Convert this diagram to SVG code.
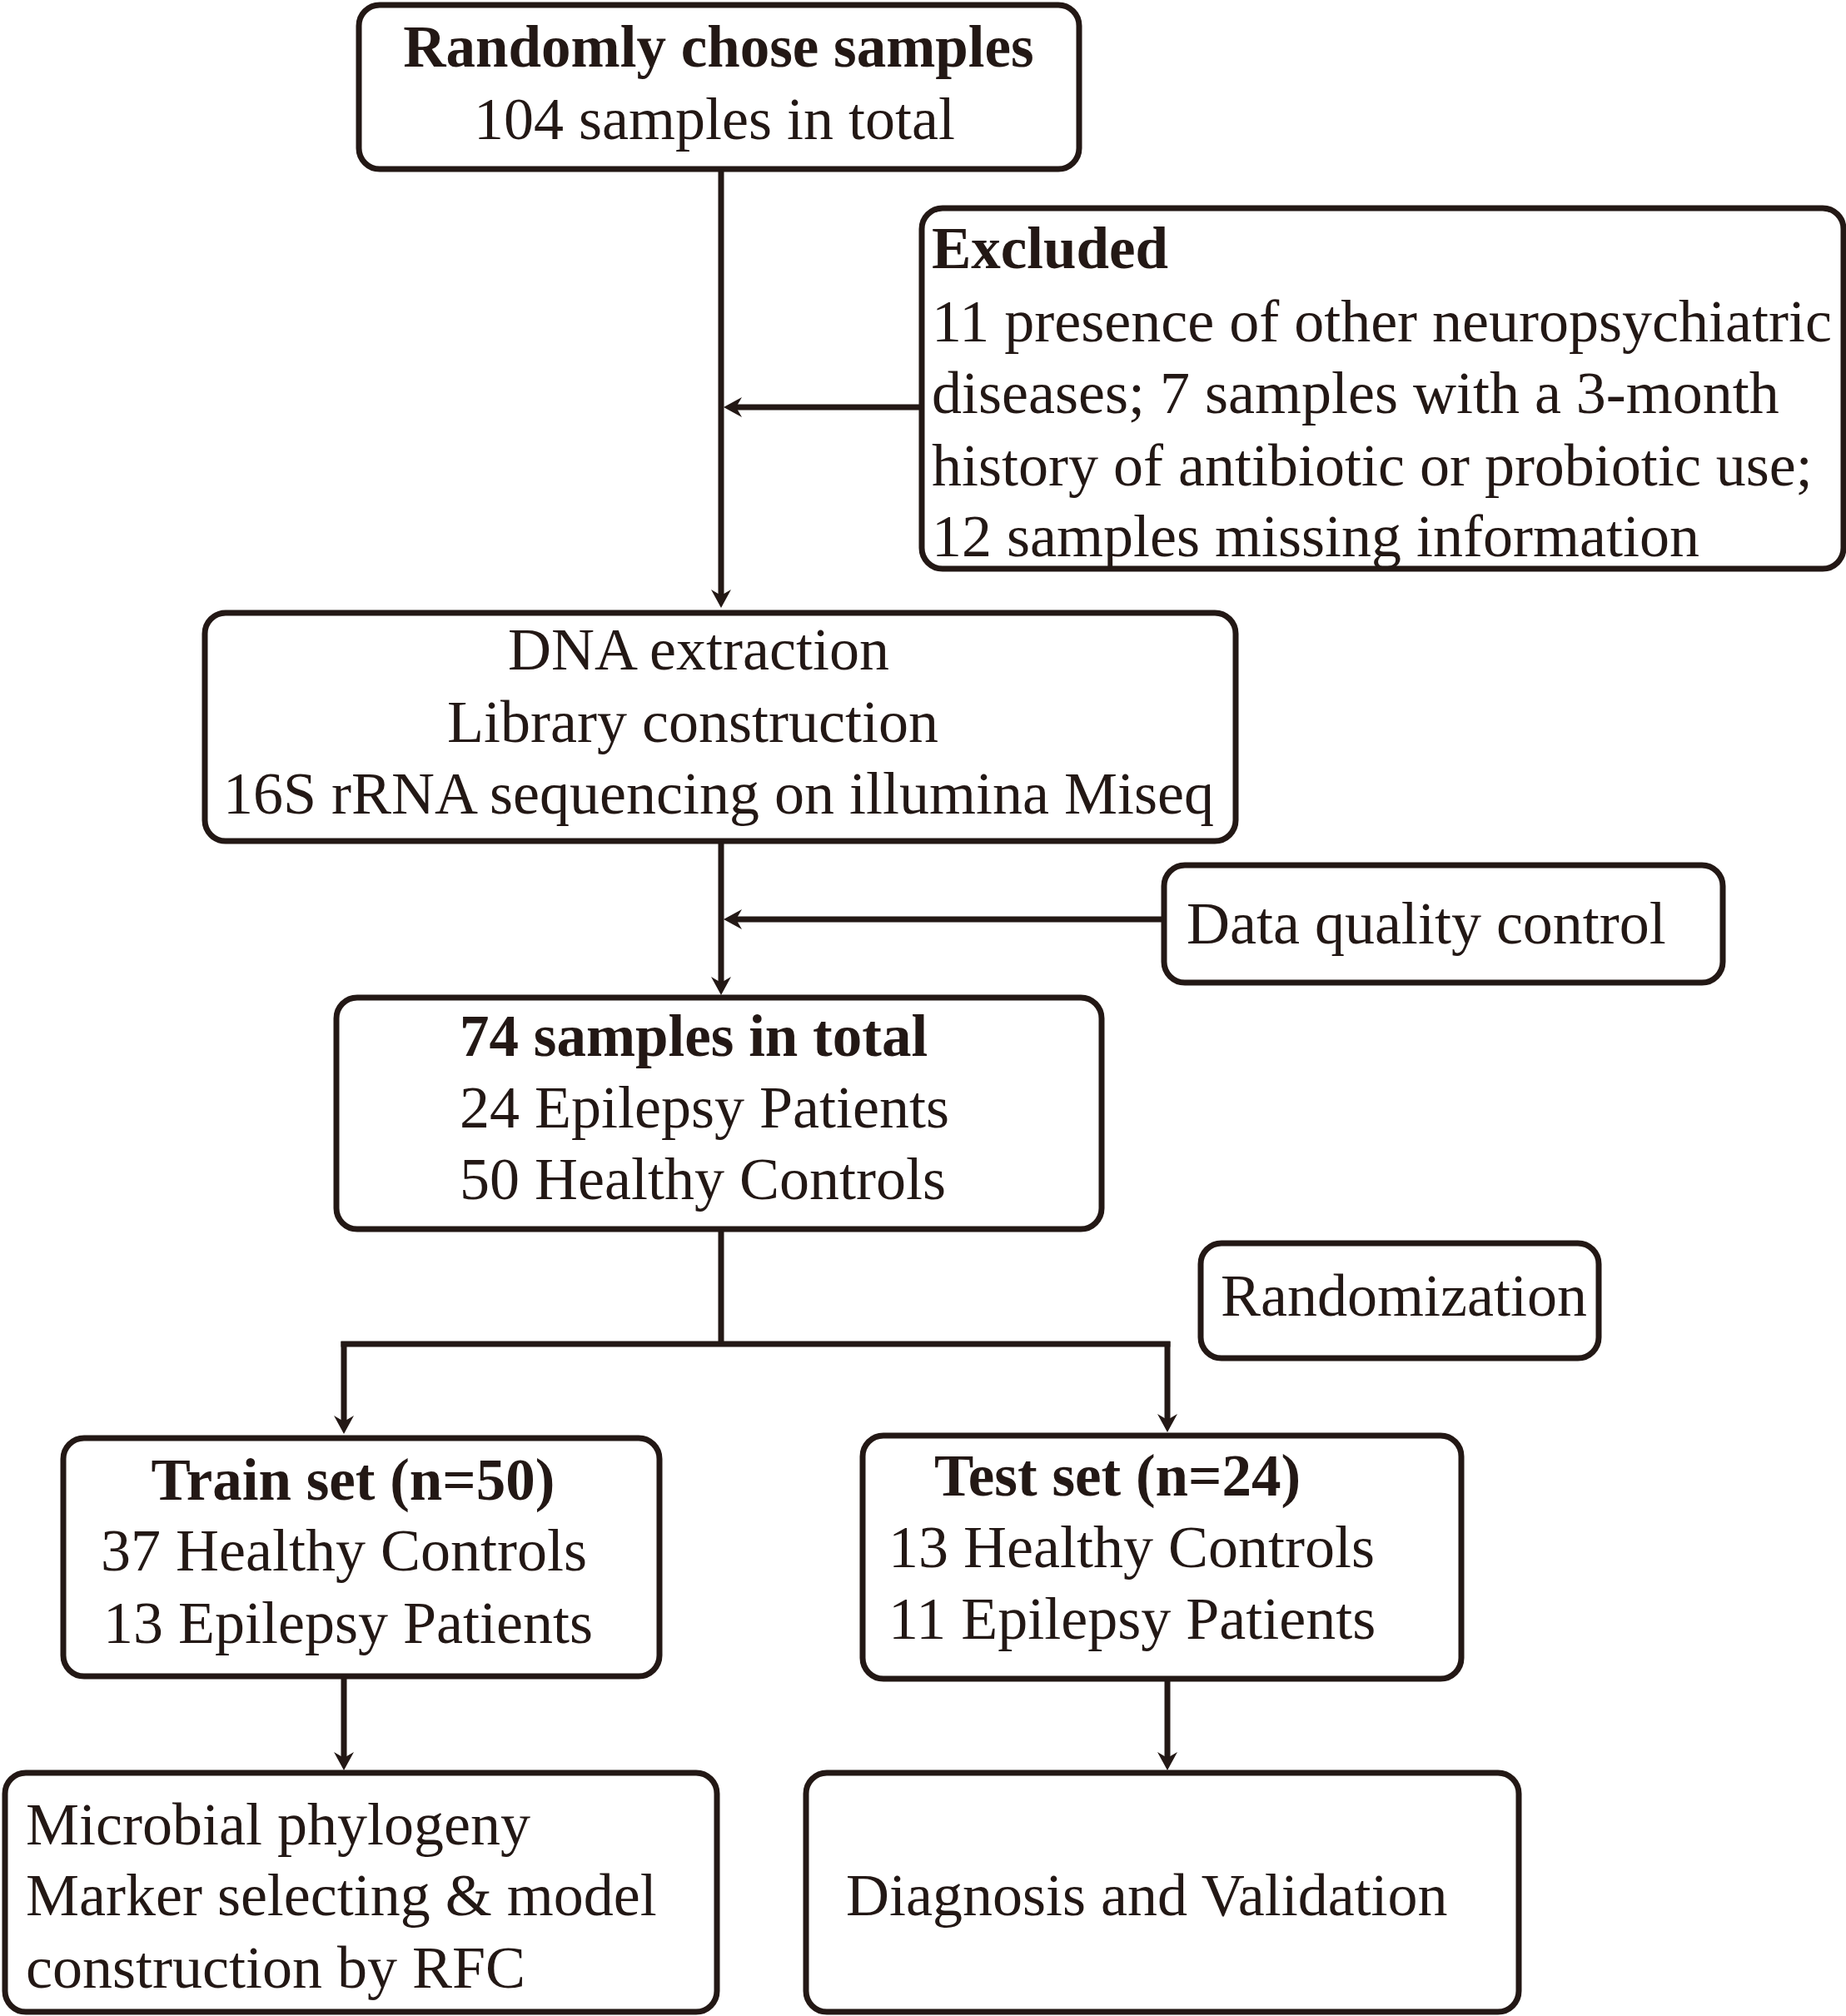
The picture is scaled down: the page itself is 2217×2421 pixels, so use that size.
<svg xmlns="http://www.w3.org/2000/svg" width="2217" height="2421" viewBox="0 0 2217 2421">
<style>
.box{fill:#fff;stroke:#231815;stroke-width:7}
.ln{fill:none;stroke:#231815;stroke-width:7}
text{font-family:"Liberation Serif","Times New Roman",serif;font-size:72px;fill:#231815}
.b{font-weight:bold;font-size:71px}
.c{text-anchor:middle}
</style>
<defs>
<marker id="ah" markerUnits="userSpaceOnUse" markerWidth="24" markerHeight="26" refX="12" refY="13" orient="auto">
<path d="M0,1 L22,13 L0,25 L7,13 Z" fill="#231815"/>
</marker>
</defs>
<rect width="2217" height="2421" fill="#fff"/>
<g id="connectors">
<path class="ln" d="M866,203 V720" marker-end="url(#ah)"/>
<path class="ln" d="M1107,489 H879" marker-end="url(#ah)"/>
<path class="ln" d="M866,1010 V1185" marker-end="url(#ah)"/>
<path class="ln" d="M1398,1104 H879" marker-end="url(#ah)"/>
<path class="ln" d="M866,1476 V1614"/>
<path class="ln" d="M409.5,1614 H1405.5"/>
<path class="ln" d="M413,1611 V1712" marker-end="url(#ah)"/>
<path class="ln" d="M1402,1611 V1710" marker-end="url(#ah)"/>
<path class="ln" d="M413,2013 V2116" marker-end="url(#ah)"/>
<path class="ln" d="M1402,2016 V2116" marker-end="url(#ah)"/>
</g>
<g id="n1">
<rect class="box" x="431" y="6" width="865" height="197" rx="25"/>
<text class="b c" x="863" y="80">Randomly chose samples</text>
<text class="c" x="858" y="167">104 samples in total</text>
</g>
<g id="n2">
<rect class="box" x="1107" y="250" width="1107" height="433" rx="25"/>
<text class="b" x="1119" y="322">Excluded</text>
<text x="1119" y="410">11 presence of other neuropsychiatric</text>
<text x="1119" y="496">diseases; 7 samples with a 3-month</text>
<text x="1119" y="583">history of antibiotic or probiotic use;</text>
<text x="1119" y="668">12 samples missing information</text>
</g>
<g id="n3">
<rect class="box" x="246" y="736" width="1238" height="274" rx="25"/>
<text class="c" x="839" y="804">DNA extraction</text>
<text class="c" x="832" y="891">Library construction</text>
<text class="c" x="863" y="977">16S rRNA sequencing on illumina Miseq</text>
</g>
<g id="n4">
<rect class="box" x="1398" y="1039" width="671" height="141" rx="25"/>
<text x="1425" y="1133">Data quality control</text>
</g>
<g id="n5">
<rect class="box" x="404" y="1198" width="919" height="278" rx="25"/>
<text class="b" x="552" y="1268">74 samples in total</text>
<text x="552" y="1354">24 Epilepsy Patients</text>
<text x="552" y="1440">50 Healthy Controls</text>
</g>
<g id="n6">
<rect class="box" x="1442" y="1493" width="478" height="138" rx="25"/>
<text x="1466" y="1580">Randomization</text>
</g>
<g id="n7">
<rect class="box" x="76" y="1727" width="716" height="286" rx="25"/>
<text class="b c" x="424" y="1801">Train set (n=50)</text>
<text x="121" y="1886">37 Healthy Controls</text>
<text x="124" y="1973">13 Epilepsy Patients</text>
</g>
<g id="n8">
<rect class="box" x="1036" y="1724" width="719" height="292" rx="25"/>
<text class="b" x="1122" y="1796">Test set (n=24)</text>
<text x="1067" y="1882">13 Healthy Controls</text>
<text x="1067" y="1968">11 Epilepsy Patients</text>
</g>
<g id="n9">
<rect class="box" x="6" y="2129" width="855" height="287" rx="25"/>
<text x="31" y="2215">Microbial phylogeny</text>
<text x="31" y="2300">Marker selecting &amp; model</text>
<text x="31" y="2387">construction by RFC</text>
</g>
<g id="n10">
<rect class="box" x="968" y="2129" width="856" height="287" rx="25"/>
<text x="1016" y="2300">Diagnosis and Validation</text>
</g>
</svg>
